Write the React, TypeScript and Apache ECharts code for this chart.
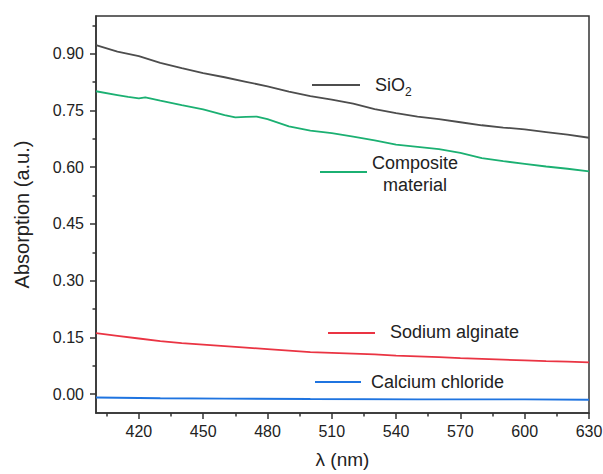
import React, { useEffect, useRef } from "react";
import * as echarts from "echarts";

const FONT = "'Liberation Sans', Arial, Helvetica, sans-serif";

const sioWl = [400, 410, 420, 430, 440, 450, 460, 470, 480, 490, 500, 510, 520, 530, 540, 550, 560, 570, 580, 590, 600, 610, 620, 630];
const sioVal = [0.923, 0.906, 0.894, 0.876, 0.862, 0.849, 0.838, 0.826, 0.814, 0.8, 0.788, 0.779, 0.768, 0.754, 0.743, 0.734, 0.727, 0.719, 0.711, 0.705, 0.7, 0.693, 0.686, 0.678];

const compWl = [400, 410, 415, 420, 423, 430, 440, 450, 460, 465, 470, 475, 480, 490, 500, 510, 520, 530, 540, 550, 560, 570, 580, 590, 600, 610, 620, 630];
const compVal = [0.801, 0.791, 0.786, 0.782, 0.785, 0.776, 0.764, 0.753, 0.738, 0.732, 0.733, 0.734, 0.727, 0.708, 0.697, 0.69, 0.681, 0.671, 0.66, 0.654, 0.648, 0.638, 0.624, 0.616, 0.609, 0.602, 0.596, 0.589];

const sodWl = [400, 410, 420, 430, 440, 450, 460, 470, 480, 490, 500, 510, 520, 530, 540, 550, 560, 570, 580, 590, 600, 610, 620, 630];
const sodVal = [0.161, 0.154, 0.147, 0.14, 0.135, 0.131, 0.127, 0.123, 0.119, 0.115, 0.111, 0.109, 0.107, 0.105, 0.102, 0.1, 0.098, 0.095, 0.093, 0.091, 0.089, 0.087, 0.086, 0.084];

const calWl = [400, 430, 460, 500, 550, 600, 630];
const calVal = [-0.009, -0.011, -0.012, -0.013, -0.014, -0.014, -0.015];

const xMajor = [420, 450, 480, 510, 540, 570, 600, 630];
const xMinor = [405, 435, 465, 495, 525, 555, 585, 615];
const yMajor = [0, 0.15, 0.3, 0.45, 0.6, 0.75, 0.9];
const yMinor = [0.075, 0.225, 0.375, 0.525, 0.675, 0.825, 0.975];

const COLORS = { sio: "#4d4d4d", comp: "#1bb072", sod: "#ea3443", cal: "#1f74e0" };

const pairs = (xs: number[], ys: number[]) => xs.map((x, i) => [x, ys[i]]);

export default function App() {
  const ref = useRef<HTMLDivElement>(null);
  useEffect(() => {
    document.body.style.margin = "0";
    const chart = echarts.init(ref.current!, null, { renderer: "svg" });
    const axisLine = { show: true, onZero: false, lineStyle: { color: "#333", width: 1.5 } };
    const lbl = { fontSize: 16, color: "#222", fontFamily: FONT };
    const line = (name: string, data: number[][], color: string) => ({
      type: "line",
      name,
      data,
      showSymbol: false,
      symbol: "none",
      lineStyle: { color, width: 1.8 },
      itemStyle: { color },
      smooth: false,
    });
    const legendItem = (x1: number, x2: number, y: number, color: string) => ({
      type: "line",
      shape: { x1, y1: y, x2, y2: y },
      style: { stroke: color, lineWidth: 1.8 },
    });
    const text = (x: number, y: number, t: string, align = "left", size = 18) => ({
      type: "text",
      x,
      y,
      style: { text: t, fontSize: size, fontFamily: FONT, fill: "#222", align, verticalAlign: "middle" },
    });
    chart.setOption({
      animation: false,
      backgroundColor: "#fff",
      grid: { left: 96, top: 16, right: 14, bottom: 61, show: true, borderColor: "#333", borderWidth: 1.5, outerBoundsMode: "none" },
      xAxis: [
        {
          type: "value", min: 400, max: 630, position: "bottom",
          axisLine,
          axisTick: { show: true, inside: false, length: 6, customValues: xMajor, lineStyle: { color: "#333", width: 1.5 } },
          axisLabel: { ...lbl, customValues: xMajor, margin: 10 },
          splitLine: { show: false },
          name: "λ (nm)", nameLocation: "middle", nameGap: 37,
          nameTextStyle: { fontSize: 19, color: "#222", fontFamily: FONT },
        },
        {
          type: "value", min: 400, max: 630, position: "bottom",
          axisLine: { show: false, onZero: false },
          axisTick: { show: true, inside: false, length: 3.5, customValues: xMinor, lineStyle: { color: "#333", width: 1.5 } },
          axisLabel: { show: false },
          splitLine: { show: false },
        },
      ],
      yAxis: [
        {
          type: "value", min: -0.05, max: 1.0, position: "left",
          axisLine,
          axisTick: { show: true, inside: false, length: 6, customValues: yMajor, lineStyle: { color: "#333", width: 1.5 } },
          axisLabel: { ...lbl, customValues: yMajor, margin: 12, formatter: (v: number) => v.toFixed(2) },
          splitLine: { show: false },
          name: "Absorption (a.u.)", nameLocation: "middle", nameGap: 64,
          nameTextStyle: { fontSize: 20, color: "#222", fontFamily: FONT },
        },
        {
          type: "value", min: -0.05, max: 1.0, position: "left",
          axisLine: { show: false, onZero: false },
          axisTick: { show: true, inside: false, length: 3.5, customValues: yMinor, lineStyle: { color: "#333", width: 1.5 } },
          axisLabel: { show: false },
          splitLine: { show: false },
        },
      ],
      series: [
        line("SiO2", pairs(sioWl, sioVal), COLORS.sio),
        line("Composite material", pairs(compWl, compVal), COLORS.comp),
        line("Sodium alginate", pairs(sodWl, sodVal), COLORS.sod),
        line("Calcium chloride", pairs(calWl, calVal), COLORS.cal),
      ],
      graphic: [
        legendItem(312, 360, 85, COLORS.sio),
        text(375, 85, "SiO"),
        text(405, 92, "2", "left", 12),
        legendItem(320, 367, 172, COLORS.comp),
        text(415, 163, "Composite", "center"),
        text(415, 185, "material", "center"),
        legendItem(328, 375, 333, COLORS.sod),
        text(390, 332, "Sodium alginate"),
        legendItem(315, 361, 382, COLORS.cal),
        text(371, 382, "Calcium chloride"),
      ],
    });
    return () => chart.dispose();
  }, []);
  return <div ref={ref} style={{ width: 603, height: 474 }} />;
}
